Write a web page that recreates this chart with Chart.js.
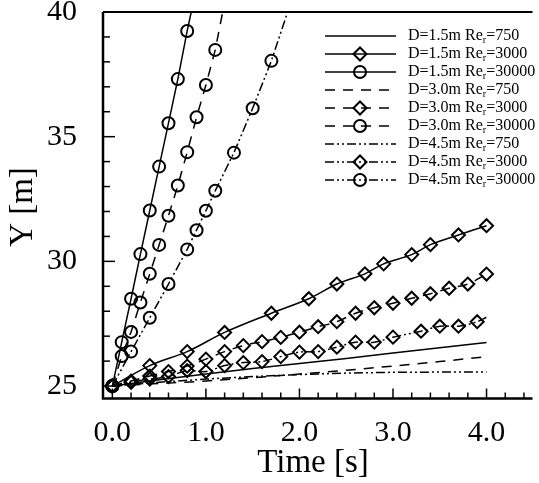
<!DOCTYPE html>
<html>
<head>
<meta charset="utf-8">
<script src="https://cdn.jsdelivr.net/npm/chart.js@4.4.1/dist/chart.umd.min.js"></script>
<style>
html, body { margin: 0; padding: 0; background: #fff; overflow: hidden; }
</style>
</head>
<body>
<canvas id="chart" width="539" height="483"></canvas>
<script>
// legend parts and tick labels
const diameters = ['1.5', '3.0', '4.5'];
const reynolds = ['750', '3000', '30000'];
const xTickValues = [0, 1, 2, 3, 4];
const xTickLabels = ['0.0', '1.0', '2.0', '3.0', '4.0'];
const yTickValues = [25, 30, 35, 40];
const yTickLabels = ['25', '30', '35', '40'];

// Re=750, lines only
const t750 = [0, 0.5, 1, 1.5, 2, 2.5, 3, 3.5, 4];
const y15_750 = [25, 25.25, 25.48, 25.7, 25.9, 26.1, 26.32, 26.54, 26.75];
const y30_750 = [25, 25.1, 25.2, 25.33, 25.48, 25.63, 25.8, 25.98, 26.18];
const y45_750 = [25, 25.15, 25.28, 25.38, 25.46, 25.52, 25.55, 25.56, 25.56];

// Re=3000, diamonds
const t15_3000 = [0, 0.4, 0.8, 1.2, 1.7, 2.1, 2.4, 2.7, 2.9, 3.2, 3.4, 3.7, 4.0];
const y15_3000 = [25, 25.82, 26.38, 27.15, 27.92, 28.5, 29.09, 29.5, 29.9, 30.27, 30.67, 31.06, 31.43];
const t30_3000 = [0, 0.2, 0.4, 0.6, 0.8, 1.0, 1.2, 1.4, 1.6, 1.8, 2.0, 2.2, 2.4, 2.6, 2.8, 3.0, 3.2, 3.4, 3.6, 3.8, 4.0];
const y30_3000 = [25, 25.2, 25.4, 25.58, 25.8, 26.08, 26.38, 26.62, 26.78, 26.95, 27.16, 27.38, 27.58, 27.92, 28.14, 28.32, 28.52, 28.7, 28.92, 29.09, 29.49];
const t45_3000 = [0, 0.2, 0.4, 0.6, 0.8, 1.0, 1.2, 1.4, 1.6, 1.8, 2.0, 2.2, 2.4, 2.6, 2.8, 3.0, 3.3, 3.5, 3.7, 3.9, 4.0];
const y45_3000 = [25, 25.15, 25.28, 25.38, 25.62, 25.58, 25.82, 25.94, 25.98, 26.18, 26.36, 26.38, 26.56, 26.76, 26.76, 26.96, 27.2, 27.4, 27.4, 27.58, 27.76];

// Re=30000, circles
const t15_30000 = [0, 0.1, 0.2, 0.3, 0.4, 0.5, 0.6, 0.7, 0.8, 0.9];
const y15_30000 = [25, 26.76, 28.5, 30.29, 32.04, 33.8, 35.54, 37.31, 39.24, 41.0];
const t30_30000 = [0, 0.1, 0.2, 0.3, 0.4, 0.5, 0.6, 0.7, 0.8, 0.9, 1.0, 1.1, 1.2];
const y30_30000 = [25, 26.2, 27.17, 28.35, 29.5, 30.66, 31.83, 33.04, 34.38, 35.78, 37.07, 38.48, 40.4];
const t45_30000 = [0, 0.2, 0.4, 0.6, 0.8, 0.9, 1.0, 1.1, 1.3, 1.5, 1.7, 1.9];
const y45_30000 = [25, 26.38, 27.74, 29.09, 30.48, 31.25, 32.03, 32.83, 34.36, 36.14, 38.04, 40.3];

const series = {
    '1.5-750': [t750, y15_750], '1.5-3000': [t15_3000, y15_3000], '1.5-30000': [t15_30000, y15_30000],
    '3.0-750': [t750, y30_750], '3.0-3000': [t30_3000, y30_3000], '3.0-30000': [t30_30000, y30_30000],
    '4.5-750': [t750, y45_750], '4.5-3000': [t45_3000, y45_3000], '4.5-30000': [t45_30000, y45_30000]
};

const serif = "'Liberation Serif', 'Times New Roman', serif";
const dashByD = { '1.5': [], '3.0': [10, 8], '4.5': [9, 3, 2, 3, 2, 3] };
const markerByRe = { '750': false, '3000': 'rectRot', '30000': 'circle' };
const radiusByRe = { '750': 0, '3000': 6.5, '30000': 6 };

const datasets = [];
diameters.forEach(d => {
    reynolds.forEach(re => {
        const [ts, ys] = series[d + '-' + re];
        const radius = ts.map((_, i) => (d === '4.5' && re === '3000' && i === ts.length - 1) ? 0 : radiusByRe[re]);
        datasets.push({
            label: 'D=' + d + 'm Re_r=' + re,
            d: d, re: re,
            data: ts.map((t, i) => ({ x: t, y: ys[i] })),
            borderColor: '#000',
            borderWidth: 1.5,
            borderDash: dashByD[d],
            pointStyle: markerByRe[re] || 'circle',
            pointRadius: radius,
            pointBorderWidth: 2,
            pointBorderColor: '#000',
            pointBackgroundColor: 'rgba(0,0,0,0)',
            tension: re === '3000' ? 0.35 : 0,
            fill: false
        });
    });
});

// axes box, inward ticks, titles
const framePlugin = {
    id: 'frame',
    afterDraw(chart) {
        const { ctx, chartArea: a, scales: { x, y } } = chart;
        ctx.save();
        ctx.strokeStyle = '#000';
        ctx.setLineDash([]);
        ctx.lineWidth = 2.5;
        ctx.beginPath();
        ctx.moveTo(a.left, a.top);
        ctx.lineTo(a.left, a.bottom);
        ctx.lineTo(a.right + 2, a.bottom);
        ctx.stroke();
        ctx.lineWidth = 2;
        ctx.beginPath();
        ctx.moveTo(a.left, a.top);
        ctx.lineTo(a.right + 2, a.top);
        ctx.stroke();

        ctx.lineWidth = 1.5;
        for (let i = 0; i <= 22; i++) {
            const px = x.getPixelForValue(i * 0.2);
            const len = i % 5 === 0 ? 10 : 6;
            ctx.beginPath();
            ctx.moveTo(px, a.bottom);
            ctx.lineTo(px, a.bottom - len);
            ctx.stroke();
        }
        for (let v = 25; v < 40; v++) {
            const py = y.getPixelForValue(v);
            const len = v % 5 === 0 ? 12 : 7;
            ctx.beginPath();
            ctx.moveTo(a.left, py);
            ctx.lineTo(a.left + len, py);
            ctx.stroke();
        }

        ctx.fillStyle = '#000';
        ctx.font = '33px ' + serif;
        ctx.textAlign = 'center';
        ctx.textBaseline = 'middle';
        ctx.fillText('Time [s]', 313, 463);
        ctx.translate(23, 207);
        ctx.rotate(-Math.PI / 2);
        ctx.fillText('Y [m]', 0, 0);
        ctx.restore();
    }
};

// legend with dashed samples, markers and subscript r
const legendPlugin = {
    id: 'curveLegend',
    afterDraw(chart) {
        const ctx = chart.ctx;
        ctx.save();
        chart.data.datasets.forEach((ds, i) => {
            const yy = 36 + i * 18;
            ctx.strokeStyle = '#000';
            ctx.lineWidth = 1.5;
            ctx.setLineDash(ds.borderDash);
            ctx.beginPath();
            ctx.moveTo(325, yy);
            ctx.lineTo(396, yy);
            ctx.stroke();
            ctx.setLineDash([]);
            ctx.lineWidth = 2;
            const mx = 360;
            if (ds.re === '3000') {
                const r = 6.5;
                ctx.fillStyle = '#fff';
                ctx.beginPath();
                ctx.moveTo(mx - r, yy); ctx.lineTo(mx, yy - r); ctx.lineTo(mx + r, yy); ctx.lineTo(mx, yy + r);
                ctx.closePath();
                ctx.stroke();
            } else if (ds.re === '30000') {
                ctx.beginPath();
                ctx.arc(mx, yy, 6, 0, Math.PI * 2);
                ctx.stroke();
            }
            ctx.fillStyle = '#000';
            ctx.textAlign = 'left';
            ctx.textBaseline = 'middle';
            ctx.font = '16px ' + serif;
            let tx = 408;
            const a = 'D=' + ds.d + 'm Re';
            ctx.fillText(a, tx, yy);
            tx += ctx.measureText(a).width;
            ctx.font = '10px ' + serif;
            ctx.fillText('r', tx, yy + 4);
            tx += ctx.measureText('r').width;
            ctx.font = '16px ' + serif;
            ctx.fillText('=' + ds.re, tx, yy);
        });
        ctx.restore();
    }
};

new Chart(document.getElementById('chart').getContext('2d'), {
    type: 'line',
    data: { datasets: datasets },
    options: {
        responsive: false,
        animation: false,
        layout: { padding: { top: 12, left: 0, right: 0, bottom: 0 } },
        plugins: { legend: { display: false }, tooltip: { enabled: false } },
        scales: {
            x: {
                type: 'linear',
                min: -0.1,
                max: 4.47,
                grid: { display: false },
                border: { display: false },
                afterBuildTicks: s => { s.ticks = xTickValues.map(v => ({ value: v })); },
                afterFit: s => { s.height = 84.5; s.paddingLeft = 0; s.paddingRight = 0; },
                ticks: {
                    padding: 9,
                    maxRotation: 0,
                    autoSkip: false,
                    color: '#000',
                    font: { family: serif, size: 30 },
                    callback: v => xTickLabels[xTickValues.indexOf(v)]
                }
            },
            y: {
                type: 'linear',
                min: 24.5,
                max: 40,
                grid: { display: false },
                border: { display: false },
                afterBuildTicks: s => { s.ticks = yTickValues.map(v => ({ value: v })); },
                afterFit: s => { s.width = 103; s.paddingTop = 0; s.paddingBottom = 0; },
                ticks: {
                    padding: 18,
                    autoSkip: false,
                    color: '#000',
                    font: { family: serif, size: 30 },
                    callback: v => yTickLabels[yTickValues.indexOf(v)]
                }
            }
        }
    },
    plugins: [framePlugin, legendPlugin]
});
</script>
</body>
</html>
